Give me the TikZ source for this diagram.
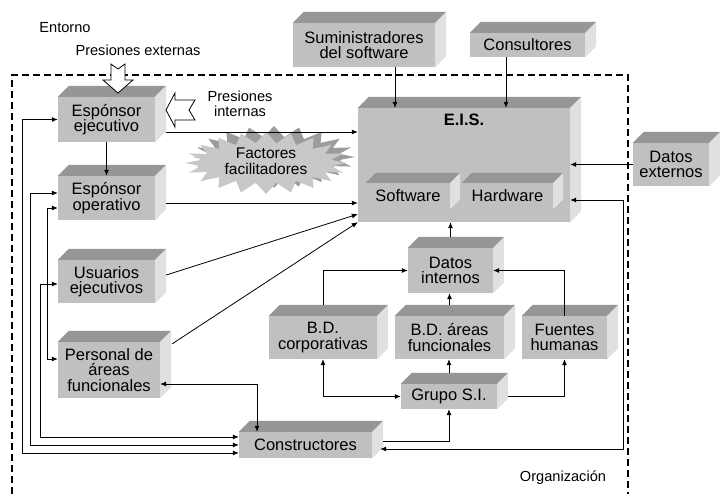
\documentclass[tikz,border=0pt]{standalone}
\usepackage{fontspec}
\setmainfont{Liberation Sans}
\usetikzlibrary{arrows.meta}
\definecolor{frente}{HTML}{C0C0C0}
\definecolor{techo}{HTML}{969696}
\definecolor{lado}{HTML}{E0E0E0}
\definecolor{estrella}{HTML}{C8C8C8}
\definecolor{estrellaosc}{HTML}{9C9C9C}

\begin{document}
\begin{tikzpicture}[x=1pt, y=-1pt]
\tikzstyle{caja} = [fill=frente, inner sep=0pt, align=center, font=\fontsize{16.5}{15.5}\selectfont]
\tikzstyle{etiqueta} = [inner sep=0pt, align=center, font=\fontsize{14.6}{15}\selectfont]
\tikzstyle{flecha} = [-{Latex[length=6pt,width=5pt]}, line width=0.8pt]
\tikzstyle{doble} = [{Latex[length=6pt,width=5pt]}-{Latex[length=6pt,width=5pt]}, line width=0.8pt]
\tikzstyle{hueca} = [fill=white, draw=black, line width=0.8pt]

\useasboundingbox (0,0) rectangle (720,494);

% limite de la organizacion
\draw[line width=1.6pt, dash pattern=on 7pt off 4pt] (12,494) -- (12,75) -- (628,75) -- (628,494);

\node (Entorno) [etiqueta] at (65,28) {Entorno};
\node (PresionesExternas) [etiqueta] at (138,50) {Presiones externas};
\node (PresionesInternas) [etiqueta] at (240,104) {Presiones\\internas};
\node (Organizacion) [etiqueta] at (563,478) {Organización};

% cajas
\node (Suministradores) [caja, minimum width=142pt, minimum height=44pt] at (364,45) {Suministradores\\del software};
\node (Consultores) [caja, minimum width=115pt, minimum height=24pt] at (527.5,45) {Consultores};
\node (DatosExternos) [caja, minimum width=76pt, minimum height=43pt] at (671,164.5) {Datos\\externos};
\node (EIS) [caja, minimum width=212pt, minimum height=114pt] at (464,165) {};
\node (EISTitulo) [font=\bfseries\fontsize{16.5}{16}\selectfont] at (464,120) {E.I.S.};
\node (Software) [caja, minimum width=84pt, minimum height=26pt] at (408,196) {Software};
\node (Hardware) [caja, minimum width=91pt, minimum height=26pt] at (507.5,196) {Hardware};
\node (SponsorEjecutivo) [caja, minimum width=97pt, minimum height=45pt] at (106.5,119.5) {Espónsor\\ejecutivo};
\node (SponsorOperativo) [caja, minimum width=97pt, minimum height=44pt] at (106.5,198) {Espónsor\\operativo};
\node (UsuariosEjecutivos) [caja, minimum width=97pt, minimum height=43pt] at (106.5,281.5) {Usuarios\\ejecutivos};
\node (PersonalAreas) [caja, minimum width=102pt, minimum height=56pt] at (109,370) {Personal de\\áreas\\funcionales};
\node (DatosInternos) [caja, minimum width=85pt, minimum height=45pt] at (450.5,270.5) {Datos\\internos};
\node (BDCorporativas) [caja, minimum width=108pt, minimum height=43pt] at (323,337.5) {B.D.\\corporativas};
\node (BDAreas) [caja, minimum width=109pt, minimum height=43pt] at (449.5,337.5) {B.D. áreas\\funcionales};
\node (FuentesHumanas) [caja, minimum width=85pt, minimum height=43pt] at (564.5,337.5) {Fuentes\\humanas};
\node (GrupoSI) [caja, minimum width=96pt, minimum height=25pt] at (449,396.5) {Grupo S.I.};
\node (Constructores) [caja, minimum width=133pt, minimum height=26pt] at (305.5,445) {Constructores};

% caras de las cajas
\foreach \n/\d in {Suministradores/11pt, Consultores/11pt, DatosExternos/11pt, EIS/11pt,
    Software/10pt, Hardware/10pt, SponsorEjecutivo/11pt, SponsorOperativo/11pt,
    UsuariosEjecutivos/11pt, PersonalAreas/11pt, DatosInternos/11pt, BDCorporativas/11pt,
    BDAreas/11pt, FuentesHumanas/11pt, GrupoSI/11pt, Constructores/11pt}
{
  \fill[techo] (\n.north west) -- ++(\d,\d) -- ([shift={(\d,\d)}]\n.north east) -- (\n.north east) -- cycle;
  \fill[lado] (\n.north east) -- ++(\d,\d) -- ([shift={(\d,\d)}]\n.south east) -- (\n.south east) -- cycle;
}

% factores facilitadores
\fill[estrellaosc, shift={(8pt,6pt)}] plot[domain=0:360, samples=41, variable=\a]
  ({266+cos(\a)*(81-15*mod(round(\a/9),2))}, {163+sin(\a)*(31-11*mod(round(\a/9),2))});
\fill[estrella] plot[domain=0:360, samples=41, variable=\a]
  ({266+cos(\a)*(81-15*mod(round(\a/9),2))}, {163+sin(\a)*(31-11*mod(round(\a/9),2))});
\node (Factores) [etiqueta, font=\fontsize{15.5}{15.5}\selectfont] at (266,161) {Factores\\facilitadores};

% presiones
\filldraw[hueca] (111,64) -- (118,69) -- (125,64) -- (125,80) -- (133,80) -- (118,93) -- (103,80) -- (111,80) -- cycle;
\filldraw[hueca] (166,110) -- (175,93) -- (175,100) -- (195,100) -- (189,110) -- (195,120) -- (175,120) -- (175,127) -- cycle;

% entradas al EIS
\coordinate (s1) at ([xshift=31pt]Suministradores.south);
\draw[flecha] (s1) -- (s1 |- EIS.north);
\coordinate (c1) at ([xshift=-21.5pt]Consultores.south);
\draw[flecha] (c1) -- (c1 |- EIS.north);
\draw[flecha] (DatosExternos.west) -- (DatosExternos.west -| EIS.east);

\coordinate (e1) at ([shift={(11pt,-12.5pt)}]SponsorEjecutivo.east);
\draw[flecha] (e1) -- (e1 -| EIS.west);
\draw[flecha] (SponsorEjecutivo.south) -- (SponsorOperativo.north);
\coordinate (o1) at ([shift={(11pt,-5pt)}]SponsorOperativo.east);
\draw[flecha] (o1) -- (o1 -| EIS.west);
\draw[flecha] ([shift={(11pt,6.5pt)}]UsuariosEjecutivos.east) -- ([yshift=8pt]EIS.south west);
\draw[flecha] ([shift={(12pt,-2pt)}]PersonalAreas.north east) -- (EIS.south west);

% lazos de la izquierda
\draw[doble] (SponsorEjecutivo.west) -- ++(-35pt,0pt) |- ([yshift=-8pt]Constructores.west);
\draw[doble] ([yshift=5pt]SponsorOperativo.west) -- ++(-27pt,0pt) |- (Constructores.west);
\draw[doble] ([yshift=-2.5pt]UsuariosEjecutivos.west) -- ++(-17pt,0pt) |- ([yshift=8pt]Constructores.west);
\draw[doble] ([yshift=-10pt]SponsorOperativo.west) -- ++(-10pt,0pt) |- ([yshift=11pt]PersonalAreas.west);
\draw[doble] ([yshift=-14pt]PersonalAreas.east) -| ([xshift=-48.5pt]Constructores.north);

% constructores y datos
\draw[flecha] ([shift={(11pt,4pt)}]Constructores.east) -| (GrupoSI.south);
\coordinate (h1) at ([yshift=-35pt]EIS.east);
\draw[doble] (h1) -- ++(53pt,0pt) |- ([shift={(8pt,-4pt)}]Constructores.east);

\draw[flecha] ([yshift=11pt]DatosInternos.north) -- (DatosInternos.north |- EIS.south);
\draw[flecha] ([yshift=11pt]BDCorporativas.north) |- (DatosInternos.west);
\draw[flecha] ([yshift=11pt]BDAreas.north) -- (BDAreas.north |- DatosInternos.south);
\draw[flecha] (FuentesHumanas.north) |- (DatosInternos.east);
\draw[flecha] ([yshift=11pt]GrupoSI.north) -- (GrupoSI.north |- BDAreas.south);
\draw[doble] (BDCorporativas.south) |- (GrupoSI.west);
\draw[flecha] ([xshift=11pt]GrupoSI.east) -| (FuentesHumanas.south);

\end{tikzpicture}
\end{document}
